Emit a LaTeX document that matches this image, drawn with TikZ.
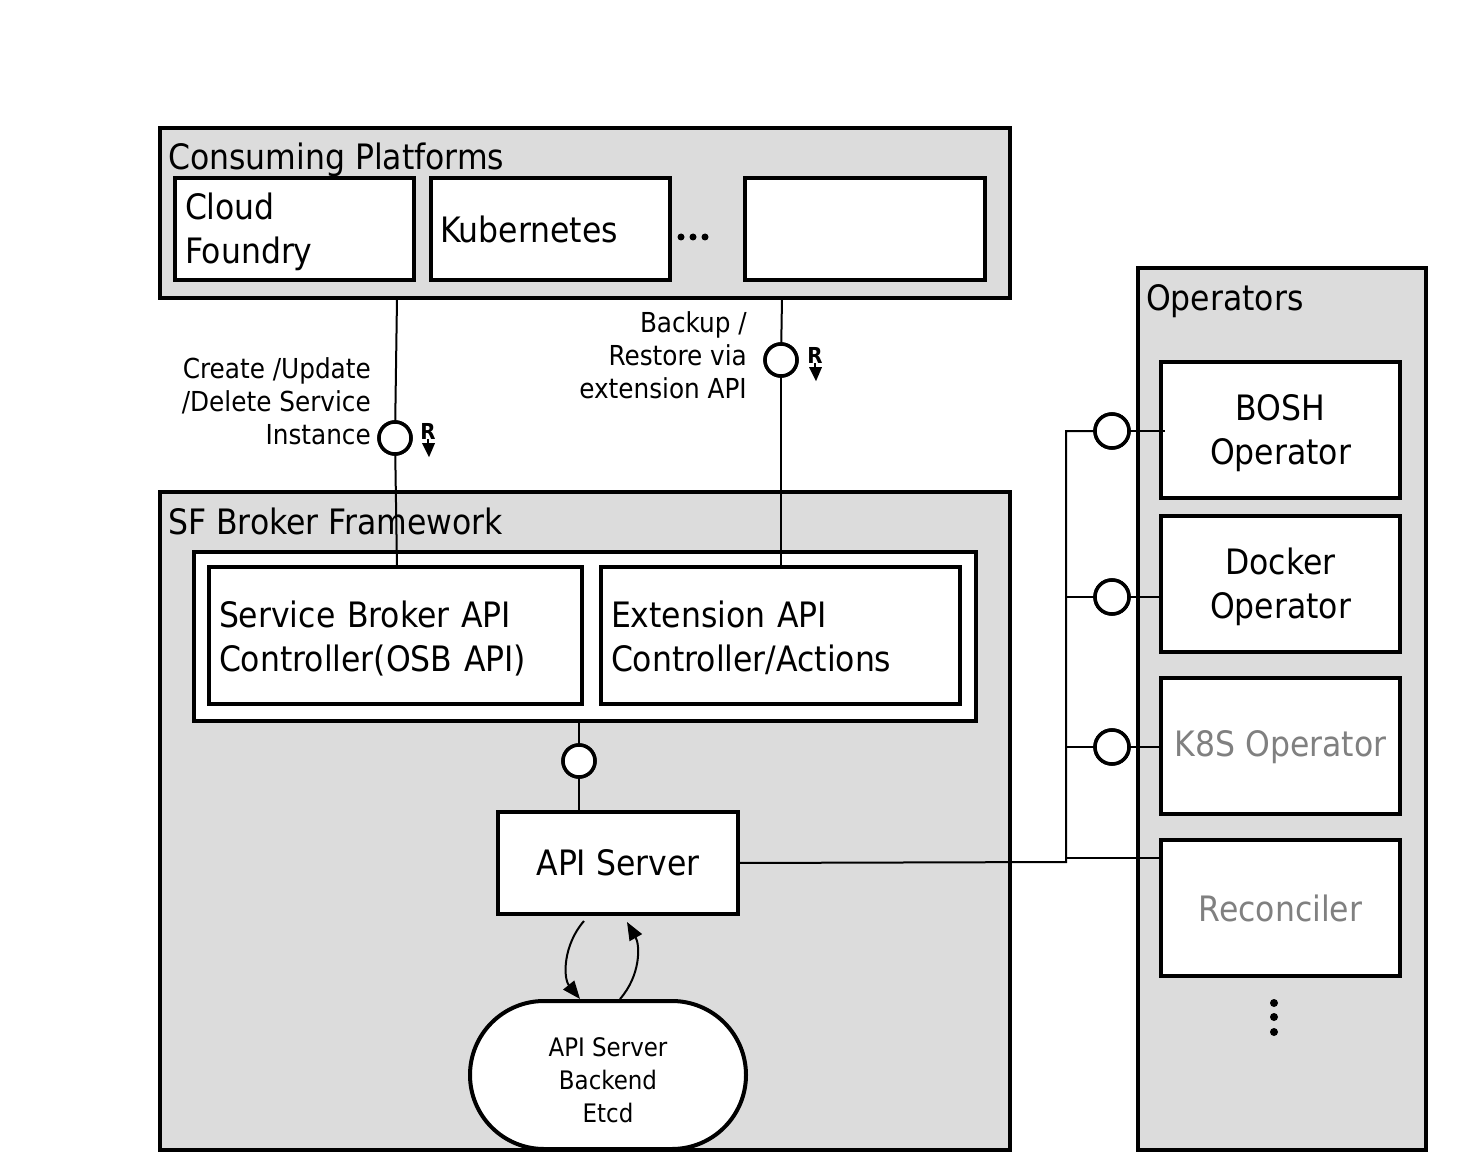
\documentclass[tikz,border=0pt]{standalone}
\usepackage{fontspec}
\setmainfont{DejaVu Sans Condensed}
\usetikzlibrary{arrows.meta,calc}
\definecolor{gbg}{RGB}{220,220,220}
\definecolor{gtxt}{RGB}{128,128,128}
\newcommand{\fsBig}{\fontsize{35}{44}\selectfont}
\newcommand{\fsMid}{\fontsize{27.5}{33}\selectfont}
\newcommand{\fsEt}{\fontsize{25.5}{33}\selectfont}
\newcommand{\fsR}{\fontsize{22}{22}\selectfont\bfseries}
\newcommand{\upstrut}[1]{\rule{0pt}{#1}}
\begin{document}
\begin{tikzpicture}[x=1pt,y=-1pt,
  cont/.style={draw, line width=4pt, fill=gbg, inner sep=0pt, outer sep=0pt, anchor=north west},
  box/.style={draw, line width=4pt, fill=white, inner sep=0pt, outer sep=0pt, anchor=north west, font=\fsBig},
  lbox/.style={box, align=left, inner xsep=10pt},
  cbox/.style={box, align=center},
  title/.style={anchor=base west, inner sep=0pt, font=\fsBig},
  thin/.style={line width=2pt},
  port/.style={circle, draw, line width=3.5pt, fill=white, minimum size=32pt, inner sep=0pt, outer sep=0pt},
  lab/.style={anchor=east, align=right, inner sep=0pt, font=\fsMid},
  rlab/.style={inner sep=0pt, font=\fsR},
  dot/.style={circle, fill=black, minimum size=8pt, inner sep=0pt},
  tip/.style={-{Triangle[length=18pt,width=14pt]}}
]
\useasboundingbox (0,0) rectangle (1460,1174);

% ---------- Consuming Platforms ----------
\node[cont, minimum width=850pt, minimum height=170pt] (cp) at (160,128) {};
\node[title] (cpt) at (168,170) {Consuming Platforms};
\node[lbox, minimum width=239pt, minimum height=102pt, text width=219pt] (cf) at (175,178) {\upstrut{33pt}Cloud\\Foundry};
\node[lbox, minimum width=239pt, minimum height=102pt, text width=221pt, inner xsep=8pt] (k8) at (431,178) {Kubernetes};
\node[box, minimum width=240pt, minimum height=102pt] (ot) at (745,178) {};
\node[dot, minimum size=7pt] (d1) at (681,237) {};
\node[dot, minimum size=7pt] (d2) at (693,237) {};
\node[dot, minimum size=7pt] (d3) at (705,237) {};

% ---------- SF Broker Framework ----------
\node[cont, minimum width=850pt, minimum height=658pt] (sf) at (160,492) {};
\node[title] (sft) at (168,534) {SF Broker Framework};
\node[box, minimum width=782pt, minimum height=169pt] (inner) at (194,552) {};
\node[lbox, minimum width=373pt, minimum height=137pt, text width=353pt] (sb) at (209,567) {\upstrut{32pt}Service Broker API\\Controller(OSB API)};
\node[lbox, minimum width=359pt, minimum height=137pt, text width=339pt] (ext) at (601,567) {\upstrut{32pt}Extension API\\Controller/Actions};
\node[cbox, minimum width=240pt, minimum height=102pt] (api) at (498,812) {API Server};
\node[draw, line width=4pt, fill=white, rounded corners=74pt, minimum width=276pt, minimum height=148pt, inner sep=0pt, outer sep=0pt, align=center, font=\fsEt] (etcd) at (608,1075) {\upstrut{30pt}API Server\\Backend\\Etcd};
\node[port] (p0) at (579,761) {};

% ---------- Operators ----------
\node[cont, minimum width=288pt, minimum height=882pt] (op) at (1138,268) {};
\node[title] (opt) at (1146,311) {Operators};
\node[cbox, minimum width=239pt, minimum height=136pt] (bosh) at (1161,362) {\upstrut{33pt}BOSH\\Operator};
\node[cbox, minimum width=239pt, minimum height=136pt] (dock) at (1161,516) {\upstrut{33pt}Docker\\Operator};
\node[cbox, minimum width=239pt, minimum height=136pt, text=gtxt] (k8s) at (1161,678) {\upstrut{28pt}K8S Operator};
\node[cbox, minimum width=239pt, minimum height=136pt, text=gtxt] (rec) at (1161,840) {Reconciler};
\node[dot] (v1) at (1274,1003) {};
\node[dot] (v2) at (1274,1017) {};
\node[dot] (v3) at (1274,1032) {};

% ---------- top connectors ----------
\node[port] (p1) at (395,438) {};
\node[port] (p2) at (781,360) {};
\draw[thin] (cp.south -| 397,0) -- (p1);
\draw[thin] (p1) -- (sb.north -| 397,0);
\draw[thin] (cp.south -| 782,0) -- (p2);
\draw[thin] (p2) -- (ext.north -| 781,0);
\node[port] at (p1) {};
\node[port] at (p2) {};
\node[lab] (l1) at (371,401) {Create /Update\\/Delete Service\\Instance};
\node[lab] (l2) at (747,355) {Backup /\\Restore via\\extension API};
\node[rlab] (r1) at (428,431) {R};
\node[rlab] (r2) at (815,355) {R};
\draw[line width=1.5pt] (r1.south) -- ([yshift=-6pt]r1.south);
\fill ([xshift=-6pt,yshift=-4pt]r1.south) -- ([xshift=7pt,yshift=-4pt]r1.south) -- ([xshift=1pt,yshift=-18pt]r1.south) -- cycle;
\draw[line width=1.5pt] (r2.south) -- ([yshift=-6pt]r2.south);
\fill ([xshift=-6pt,yshift=-4pt]r2.south) -- ([xshift=7pt,yshift=-4pt]r2.south) -- ([xshift=1pt,yshift=-18pt]r2.south) -- cycle;

% ---------- inner connectors ----------
\draw[thin] (inner.south -| p0) -- (p0);
\draw[thin] (p0) -- (api.north -| p0);
\node[port] at (p0) {};
\draw[thin, tip] ([xshift=-34pt,yshift=-7pt]api.south) .. controls (563,945) and (563,978) .. ([xshift=-28pt,yshift=2pt]etcd.north);
\draw[thin, tip] ([xshift=12pt,yshift=2pt]etcd.north) .. controls (641,975) and (640,945) .. ([xshift=9pt,yshift=-8pt]api.south);

% ---------- operator bus ----------
\coordinate (bt) at (1066,431);
\coordinate (bb) at (1066,862);
\node[port, minimum size=34pt] (q1) at (1112,431) {};
\node[port, minimum size=34pt] (q2) at (1112,597) {};
\node[port, minimum size=34pt] (q3) at (1112,747) {};
\draw[thin] (api.east) -- (bb) -- (bt) -- (q1);
\draw[thin] (q1) -- ([xshift=4pt]bosh.west |- q1);
\draw[thin] (bt |- q2) -- (q2) -- (dock.west |- q2);
\draw[thin] (bt |- q3) -- (q3) -- (k8s.west |- q3);
\draw[thin] ([yshift=4pt]bb) -- ([yshift=-18pt]rec.north west);
\node[port, minimum size=34pt] at (q1) {};
\node[port, minimum size=34pt] at (q2) {};
\node[port, minimum size=34pt] at (q3) {};
\end{tikzpicture}
\end{document}
